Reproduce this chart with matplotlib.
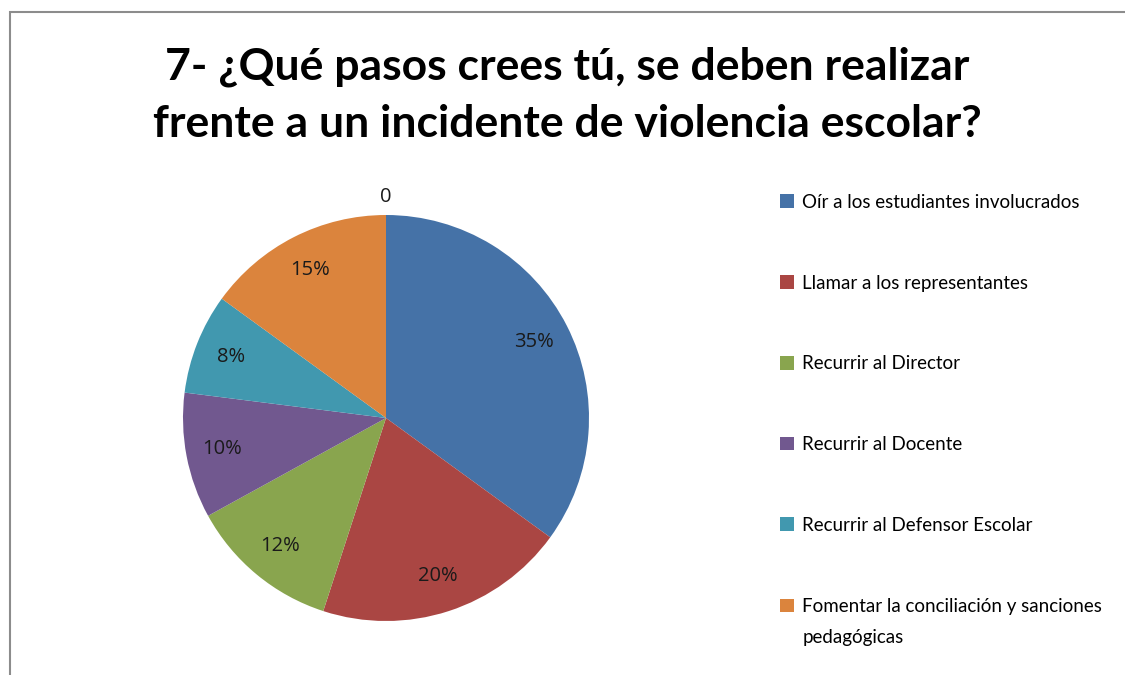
import matplotlib.pyplot as plt
from matplotlib.patches import Rectangle, Patch
from matplotlib.legend_handler import HandlerPatch

# Data
categories = [
    'Oír a los estudiantes involucrados',
    'Llamar a los representantes',
    'Recurrir al Director',
    'Recurrir al Docente',
    'Recurrir al Defensor Escolar',
    'Fomentar la conciliación y sanciones\npedagógicas',
]
values = [35, 20, 12, 10, 8, 15]
zero_label = '0'
colors = ['#4572A7', '#AA4643', '#89A54E', '#71588F', '#4198AF', '#DB843D']
title = '7- ¿Qué pasos crees tú, se deben realizar\nfrente a un incidente de violencia escolar?'

W, H = 1125, 675
fig = plt.figure(figsize=(W / 100, H / 100), dpi=100)
ax = fig.add_axes([0, 0, 1, 1])

# chart border (cut at right and bottom)
fig.patches.append(Rectangle((10 / W, -0.1), 1.2, (H - 12) / H + 0.1,
                             transform=fig.transFigure, fill=False,
                             edgecolor='#8c8c8c', linewidth=1.5))

cx, cy, r = 386, H - 418, 203
wedges, texts, autotexts = ax.pie(values, colors=colors, startangle=90, counterclock=False,
                                  center=(cx, cy), radius=r, autopct='%.0f%%',
                                  pctdistance=0.82, frame=True,
                                  textprops=dict(fontsize=14.5, color='#1a1a1a', family='Open Sans'))
ax.set_xlim(0, W)
ax.set_ylim(0, H)
ax.set_aspect('equal')
ax.axis('off')
ax.text(cx, cy + r * 1.09, zero_label, ha='center', va='center', fontsize=14.5,
        color='#1a1a1a', family='Open Sans')

fig.text(567 / W, 1 - 95 / H, title, ha='center', va='center', fontsize=32,
         fontweight='bold', family='Lato', linespacing=1.52)


# the two-line entry keeps its marker beside the first line, like Excel
def top_patch(legend, orig_handle, xdescent, ydescent, width, height, fontsize):
    return Rectangle((-xdescent, -ydescent + 12), width, height)


handles = [Patch(facecolor=c, edgecolor='none') for c in colors]
leg = fig.legend(handles, categories, loc='upper left', bbox_to_anchor=(763 / W, 1 - 177 / H),
                 frameon=False, handlelength=0.75, handleheight=0.75, handletextpad=0.45,
                 labelspacing=3.4, prop=dict(family='Lato', size=13.5),
                 handler_map={handles[-1]: HandlerPatch(patch_func=top_patch)})
for t in leg.get_texts():
    t.set_linespacing(2.0)

fig.savefig('out.png', dpi=100)
